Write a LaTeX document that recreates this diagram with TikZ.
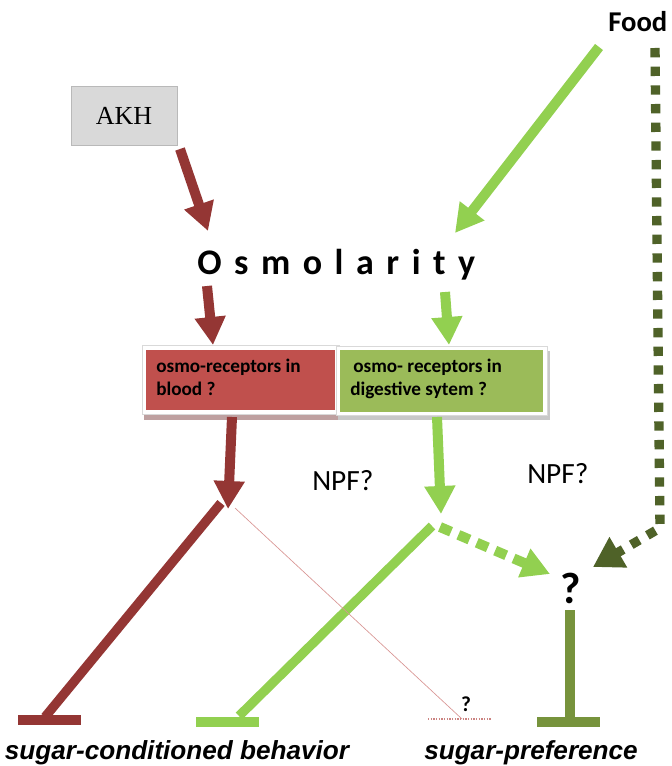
\documentclass[tikz,border=0pt]{standalone}
\usepackage{fontspec}
\setmainfont{Liberation Sans}
\newfontfamily\calfont{Carlito}
\newfontfamily\timesfont{Liberation Serif}
\usetikzlibrary{arrows.meta}

\definecolor{akhred}{HTML}{943634}
\definecolor{lightgreen}{HTML}{92D050}
\definecolor{darkolive}{HTML}{4F6228}
\definecolor{olive}{HTML}{77933C}
\definecolor{boxred}{HTML}{C0504D}
\definecolor{boxgreen}{HTML}{9BBB59}
\definecolor{thinpink}{HTML}{D99694}
\definecolor{akhgray}{HTML}{D9D9D9}

\newcommand\osmgap{\kern9.4pt}

\tikzset{
  bigtip/.style={-{Triangle[width=22pt,length=21pt]}},
  fatline/.style={line width=7.5pt, line cap=butt},
  tbar/.style={line width=7.5pt, line cap=butt},
  boxtext/.style={anchor=base west, inner sep=0, font=\calfont\bfseries\fontsize{14.4}{17}\selectfont},
  npf/.style={inner sep=0, anchor=base west, font=\calfont\fontsize{22}{24}\selectfont},
  plain/.style={inner sep=0},
}

\begin{document}
\begin{tikzpicture}[x=0.75pt,y=-0.75pt]
\path[use as bounding box, fill=white] (0,0) rectangle (671,766);

% ---- AKH box ----
\node (akh) at (124,115.5) [draw=gray!55, fill=akhgray, minimum width=79.5pt,
  minimum height=44.25pt, inner sep=0, line width=0.6pt]
  {\timesfont\fontsize{19.5}{22}\selectfont AKH};

% ---- Food ----
\node (food) [plain, anchor=base west] at (608,32)
  {\calfont\bfseries\fontsize{21.5}{24}\selectfont Food};

% ---- Osmolarity ----
\node (osm) [plain, anchor=base west] at (197,275)
  {\calfont\bfseries\fontsize{27}{30}\selectfont
   O\osmgap s\osmgap m\osmgap o\osmgap l\osmgap a\osmgap r\osmgap i\osmgap t\osmgap y};

% ---- receptor boxes (shadow, white frame, coloured face) ----
\fill[fill={rgb,255:red,190;green,160;blue,160}] (144,350) rectangle (339,420);
\fill[white, draw=gray!30, line width=0.5pt] (142,345) rectangle (339,414);
\node (redbox) [anchor=north west, fill=boxred, minimum width=141.75pt,
  minimum height=45pt, inner sep=0] at (146,350) {};

\fill[fill={rgb,255:red,200;green,200;blue,200}] (338,351) rectangle (550,420);
\fill[white, draw=gray!30, line width=0.5pt] (336,346) rectangle (547,415);
\node (greenbox) [anchor=north west, fill=boxgreen, minimum width=152.25pt,
  minimum height=46.5pt, inner sep=0] at (340,350) {};

\node (redA) [boxtext] at (156,372) {osmo-receptors in};
\node (redB) [boxtext] at (156,395) {blood ?};
\node (grnA) [boxtext] at (353,372) {osmo- receptors in};
\node (grnB) [boxtext] at (350,395) {digestive sytem ?};

% ---- labels ----
\node (npfA) [npf] at (312,490) {NPF?};
\node (npfB) [npf] at (527,483) {NPF?};
\node (qbig) [plain, anchor=base] at (571,603)
  {\calfont\bfseries\fontsize{33}{36}\selectfont ?};
\node (qsmall) [plain, anchor=base] at (466,711)
  {\calfont\bfseries\fontsize{16}{18}\selectfont ?};
\node (behav) [plain, anchor=base] at (177,759.5)
  {\bfseries\itshape\fontsize{19.6}{22}\selectfont sugar-conditioned behavior};
\node (pref) [plain, anchor=base] at (531,759.5)
  {\bfseries\itshape\fontsize{19.6}{22}\selectfont sugar-preference};

% ---- connector end points ----
\coordinate (akhOut) at (180,149);
\coordinate (osmIn)  at (208,231);
\coordinate (foodG)  at (599,47);
\coordinate (osmInG) at (455,233);
\coordinate (osmOutR) at (207,286);
\coordinate (redIn)   at (213,345);
\coordinate (osmOutG) at (445,292);
\coordinate (grnIn)   at (449,345);
\coordinate (redOut)  at (232,417);
\coordinate (redNode) at (228,509);
\coordinate (grnOut)  at (437,417);
\coordinate (grnNode) at (441,514);
\coordinate (redInhS) at (221,503);
\coordinate (redInhE) at (45,717);
\coordinate (redBarL) at (18,720);
\coordinate (redBarR) at (81,720);
\coordinate (grnInhS) at (432,526);
\coordinate (grnInhE) at (239,716);
\coordinate (grnBarL) at (196,722);
\coordinate (grnBarR) at (259,722);
\coordinate (pinkS)   at (235,508);
\coordinate (pinkE)   at (462,719);
\coordinate (dotL)    at (428,719);
\coordinate (dotR)    at (491,719);
\coordinate (dashS)   at (440,527);
\coordinate (dashE)   at (550,574);
\coordinate (foodD)   at (655,48);
\coordinate (bendD)   at (660,528);
\coordinate (qIn)     at (593,567);
\coordinate (prefS)   at (570,610);
\coordinate (prefE)   at (570,718);
\coordinate (prefBarL) at (537,722);
\coordinate (prefBarR) at (600,722);

% ---- arrows ----
\draw[fatline, akhred, bigtip] (akhOut) -- (osmIn);
\draw[fatline, lightgreen, bigtip] (foodG) -- (osmInG);
\draw[fatline, akhred, bigtip] (osmOutR) -- (redIn);
\draw[fatline, lightgreen, bigtip] (osmOutG) -- (grnIn);
\draw[fatline, akhred, bigtip] (redOut) -- (redNode);
\draw[fatline, lightgreen, bigtip] (grnOut) -- (grnNode);

% ---- inhibition lines ----
\draw[fatline, line width=7pt, akhred] (redInhS) -- (redInhE);
\draw[tbar, akhred] (redBarL) -- (redBarR);
\draw[fatline, line width=7pt, lightgreen] (grnInhS) -- (grnInhE);
\draw[tbar, lightgreen] (grnBarL) -- (grnBarR);
\draw[fatline, line width=7pt, olive] (prefS) -- (prefE);
\draw[tbar, olive] (prefBarL) -- (prefBarR);

% ---- faint link ----
\draw[thinpink, line width=0.5pt] (pinkS) -- (pinkE);
\draw[thinpink!80!akhred, line width=0.8pt, dash pattern=on 1pt off 1pt] (dotL) -- (dotR);

% ---- dashed arrows ----
\draw[lightgreen, line width=7.5pt, dash pattern=on 9pt off 6pt, bigtip] (dashS) -- (dashE);
\draw[darkolive, line width=7pt, dash pattern=on 7pt off 7pt, line join=miter,
  -{Triangle[width=25pt,length=22pt]}]
  (foodD) -- (bendD) -- (qIn);
\end{tikzpicture}
\end{document}
